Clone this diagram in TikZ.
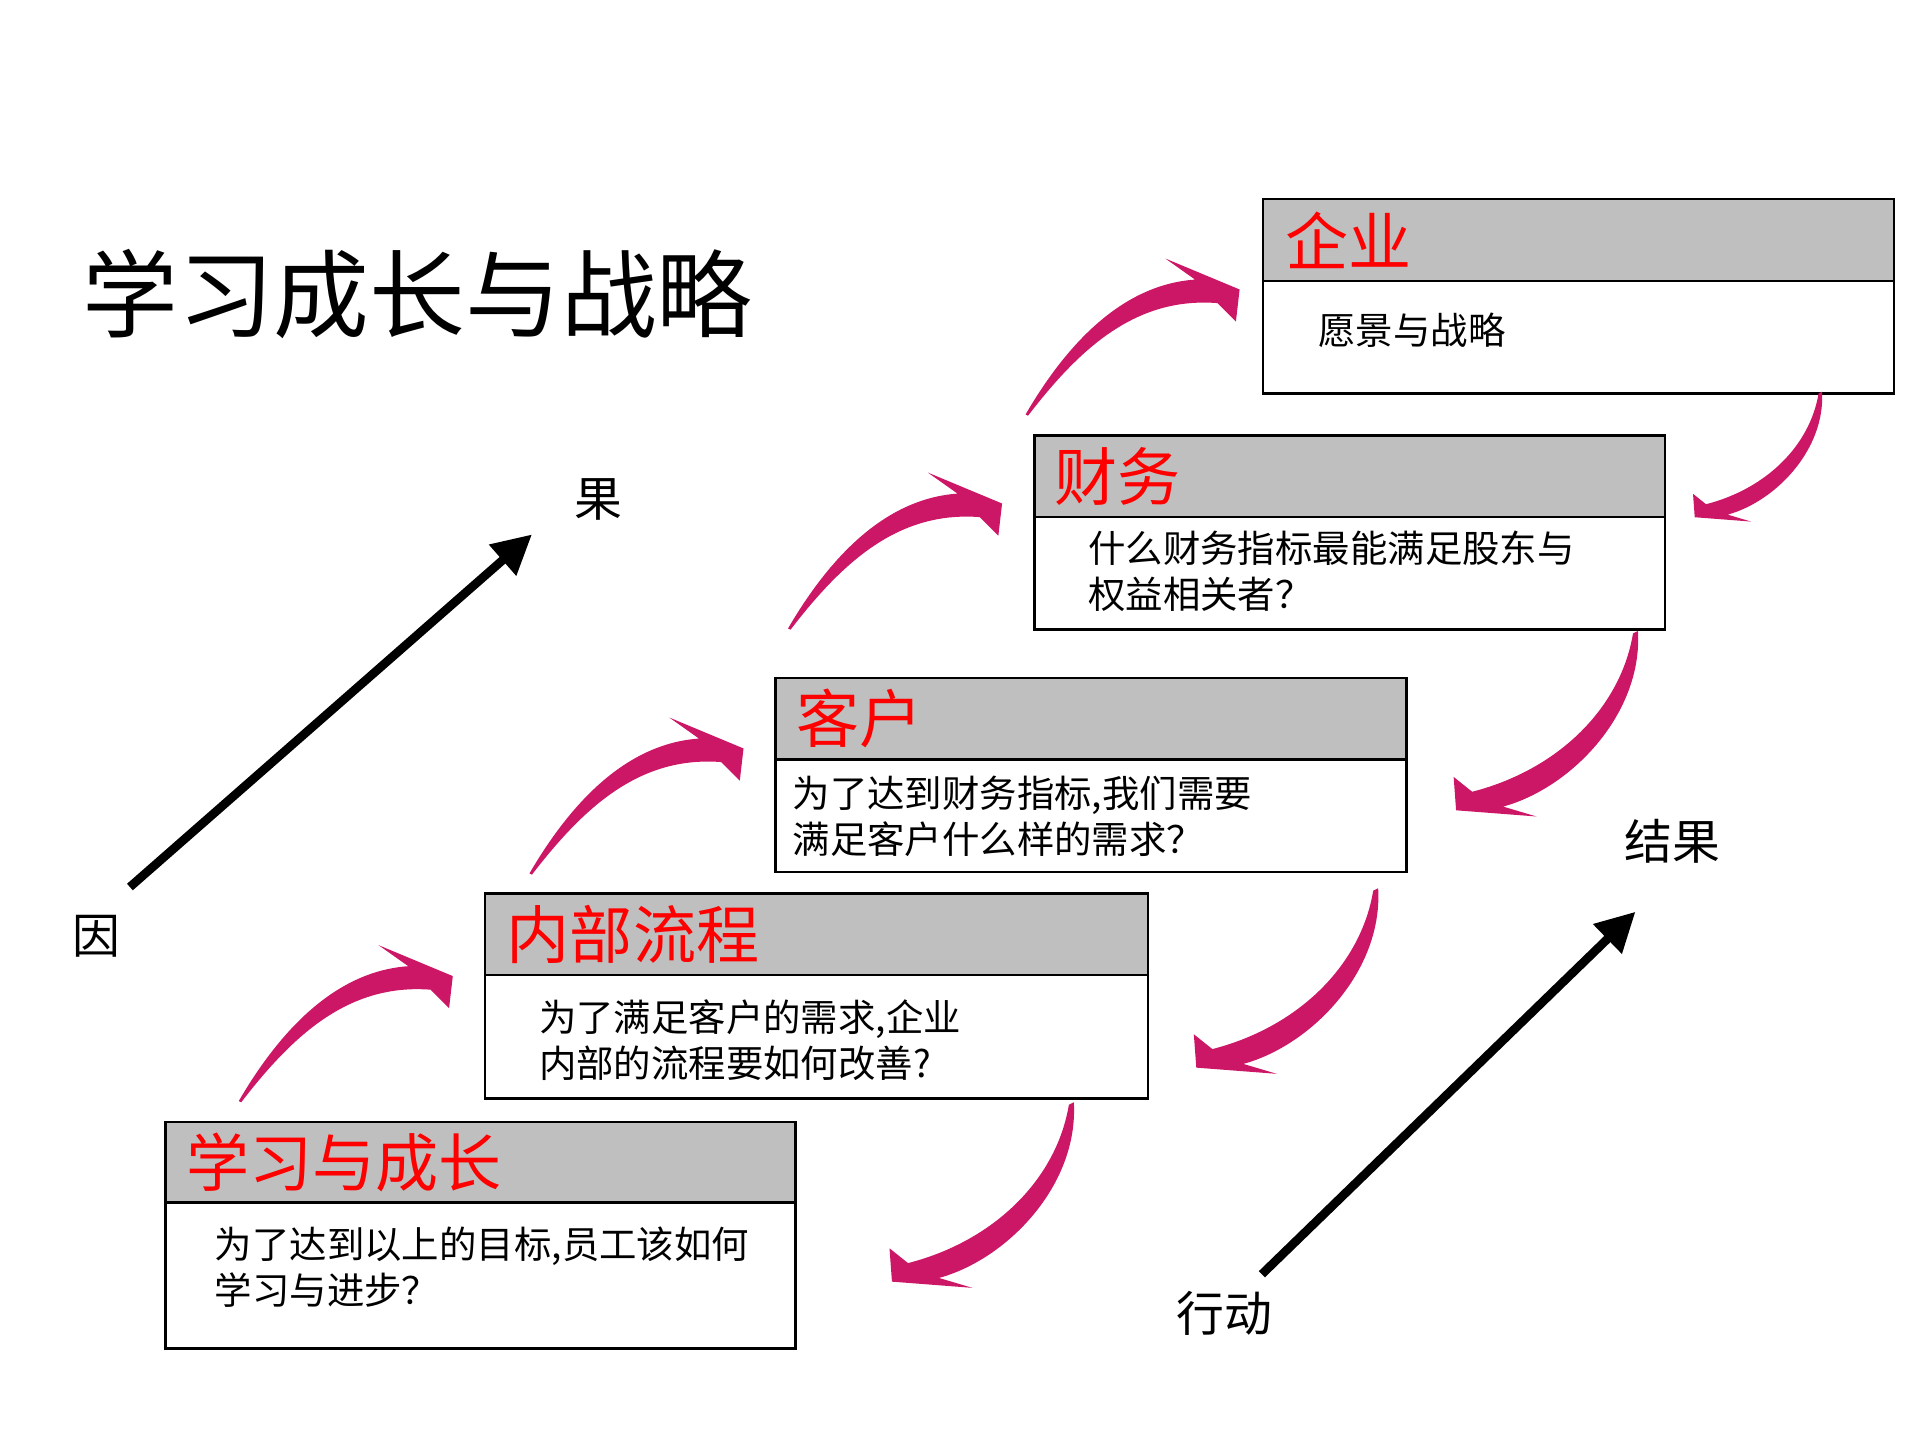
\documentclass[tikz,border=0pt]{standalone}
\usepackage{fontspec}
\setmainfont{Noto Sans CJK SC}
\usetikzlibrary{arrows.meta}
\definecolor{arrowc}{HTML}{CC1766}
\definecolor{hdr}{HTML}{BFBFBF}
\tikzset{
  box/.style={draw=black,line width=0.6pt},
  hdrbox/.style={draw=black,line width=0.6pt,fill=hdr},
  htitle/.style={anchor=west,text=red,font=\fontsize{14.5}{16}\selectfont,inner sep=0pt},
  btext/.style={anchor=west,align=left,font=\fontsize{8.6}{10.6}\selectfont,inner sep=0pt},
  lbl/.style={font=\fontsize{11}{13}\selectfont,inner sep=0pt},
  bigarrow/.style={line width=2pt,-{Triangle[length=9pt,width=9pt]}},
}
\newcommand\uparr[1]{\fill[arrowc,shift={#1}] (0,0) .. controls (35,-60) and (80,-105) .. (137,-109)
  -- (113,-126) -- (173,-101) -- (170,-75) -- (155,-90) .. controls (90,-95) and (45,-55) .. (2,1) -- cycle;}
\newcommand\dnarr[2]{\fill[arrowc,shift={#1},scale=#2] (0,0) .. controls (-10,60) and (-60,110) .. (-130,128)
  -- (-145,116) -- (-143,143) -- (-78,148) -- (-105,140) .. controls (-50,125) and (8,65) .. (4,-2) -- cycle;}
\begin{document}
\begin{tikzpicture}[x=0.01cm,y=-0.01cm]
\useasboundingbox (0,0) rectangle (1552,1164);
% title
\node[anchor=west,inner sep=0pt,font=\fontsize{22}{24}\selectfont] (title) at (66,238) {学习成长与战略};
% boxes
\draw[box] (1021,161) rectangle (1531,318);
\draw[hdrbox] (1021,161) rectangle (1531,227);
\node[htitle] (t1) at (1038,194) {企业};
\node[btext] (b1) at (1065,267) {愿景与战略};

\draw[box] (836,352) rectangle (1346,509);
\draw[hdrbox] (836,352) rectangle (1346,418);
\node[htitle] (t2) at (852,385) {财务};
\node[btext] (b2) at (879,462) {什么财务指标最能满足股东与\\权益相关者？};

\draw[box] (627,548) rectangle (1137,705);
\draw[hdrbox] (627,548) rectangle (1137,614);
\node[htitle] (t3) at (643,581) {客户};
\node[btext] (b3) at (640,660) {为了达到财务指标,我们需要\\满足客户什么样的需求？};

\draw[box] (392,722) rectangle (928,888);
\draw[hdrbox] (392,722) rectangle (928,788);
\node[htitle] (t4) at (409,755) {内部流程};
\node[btext] (b4) at (435,841) {为了满足客户的需求,企业\\内部的流程要如何改善?};

\draw[box] (134,907) rectangle (643,1090);
\draw[hdrbox] (134,907) rectangle (643,972);
\node[htitle] (t5) at (150,940) {学习与成长};
\node[btext] (b5) at (173,1024) {为了达到以上的目标,员工该如何\\学习与进步？};

% curved arrows
\uparr{(829,335)}
\uparr{(637,508)}
\uparr{(428,706)}
\uparr{(193,890)}
\dnarr{(1470,318)}{0.7}
\dnarr{(1320,512)}{1}
\dnarr{(1110,720)}{1}
\dnarr{(864,893)}{1}

% labels and straight arrows
\node[lbl] (guo) at (484,404) {果};
\node[lbl] (yin) at (78,757) {因};
\node[lbl] (jg) at (1352,680) {结果};
\node[lbl] (xd) at (990,1062) {行动};
\coordinate (a1) at (105,717);
\coordinate (a2) at (430,432);
\coordinate (c1) at (1020,1030);
\coordinate (c2) at (1322,737);
\draw[bigarrow] (a1) -- (a2);
\draw[bigarrow] (c1) -- (c2);
\end{tikzpicture}
\end{document}
